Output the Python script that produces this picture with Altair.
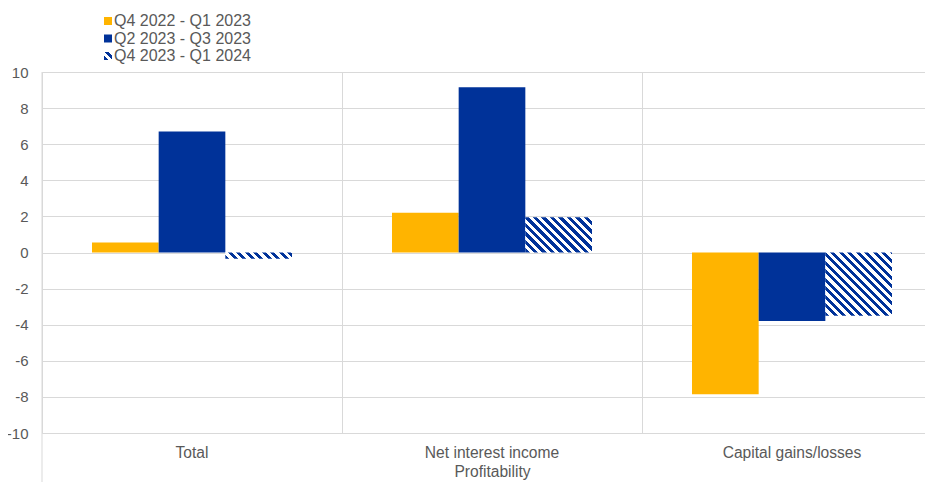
import json
import math
import altair as alt
import pandas as pd

# ---- data ----
categories = ["Total", "Net interest income", "Capital gains/losses"]
series = ["Q4 2022 - Q1 2023", "Q2 2023 - Q3 2023", "Q4 2023 - Q1 2024"]
q4_2022_q1_2023 = [0.55, 2.2, -7.85]
q2_2023_q3_2023 = [6.7, 9.15, -3.8]
q4_2023_q1_2024 = [-0.35, 1.95, -3.5]
y_ticks = [-10, -8, -6, -4, -2, 0, 2, 4, 6, 8, 10]
x_title = "Profitability"

# ---- style ----
ORANGE = "#FFB400"
BLUE = "#003299"
WHITE = "#FFFFFF"
GRID = "#D9D9D9"
TEXT = "#595959"
FONT = "Liberation Sans"
PLOT_W = 883
PLOT_H = 361
X_RANGE = 900
Y_MIN, Y_MAX = -10, 10
PAD_OUTER = 0.75
PERIOD = 8.5

band = X_RANGE / len(categories)
bar_w = band / (len(series) + 2 * PAD_OUTER)
px_per_unit = PLOT_H / (Y_MAX - Y_MIN)


def hatch(w, h):
    """Diagonal stripe fill ("\\") at 45 degrees for a box of w x h pixels."""
    total = w + h
    n = int(math.ceil(total / PERIOD))
    stops = []
    for k in range(n):
        a = min(k * PERIOD / total, 1)
        m = min((k + 0.5) * PERIOD / total, 1)
        b = min((k + 1) * PERIOD / total, 1)
        stops += [
            {"offset": round(a, 5), "color": BLUE},
            {"offset": round(m, 5), "color": BLUE},
            {"offset": round(m, 5), "color": WHITE},
            {"offset": round(b, 5), "color": WHITE},
        ]
    d = w * w + h * h
    return {
        "gradient": "linear",
        "x1": 0,
        "y1": 1,
        "x2": round(w * total / d, 5),
        "y2": round(1 - h * total / d, 5),
        "stops": stops,
    }


rows = []
for s, vals in zip(series, [q4_2022_q1_2023, q2_2023_q3_2023, q4_2023_q1_2024]):
    for c, v in zip(categories, vals):
        g = hatch(bar_w, abs(v) * px_per_unit) if s == series[2] else None
        rows.append({"category": c, "series": s, "value": v, "g": g})
df = pd.DataFrame(rows)

legend_hatch = alt.ExprRef(json.dumps(hatch(8, 8)))

x_enc = alt.X(
    "category:N",
    sort=categories,
    scale=alt.Scale(domain=categories, range=[0, X_RANGE], paddingInner=0, paddingOuter=0),
    axis=alt.Axis(
        title=x_title,
        labelAngle=0,
        ticks=False,
        tickSize=0,
        domain=False,
        grid=True,
        bandPosition=0,
        gridColor=GRID,
        gridWidth=1,
        labelPadding=12,
        titlePadding=4,
        labelFont=FONT,
        labelFontSize=15.6,
        labelColor=TEXT,
        titleFont=FONT,
        titleFontSize=15.6,
        titleFontWeight="normal",
        titleColor=TEXT,
    ),
)
xoff_enc = alt.XOffset(
    "series:N",
    sort=series,
    scale=alt.Scale(domain=series, paddingInner=0, paddingOuter=PAD_OUTER),
)
y_enc = alt.Y(
    "value:Q",
    scale=alt.Scale(domain=[Y_MIN, Y_MAX], nice=False, zero=False),
    axis=alt.Axis(
        title=None,
        values=y_ticks,
        labelExpr="datum.value + ''",
        ticks=False,
        tickSize=0,
        domain=False,
        grid=True,
        gridColor=GRID,
        gridWidth=1,
        labelPadding=14,
        labelFont=FONT,
        labelFontSize=15,
        labelColor=TEXT,
    ),
)

solid = (
    alt.Chart(df)
    .transform_filter(alt.datum.series != series[2])
    .mark_bar()
    .encode(
        x=x_enc,
        xOffset=xoff_enc,
        y=y_enc,
        color=alt.Color(
            "series:N",
            sort=series,
            scale=alt.Scale(domain=series, range=[ORANGE, BLUE, legend_hatch]),
            legend=alt.Legend(
                title=None,
                orient="none",
                legendX=58,
                legendY=-59,
                symbolType="square",
                symbolSize=64,
                symbolStrokeWidth=0,
                labelFont=FONT,
                labelFontSize=16,
                labelColor=TEXT,
                labelOffset=alt.ExprRef("-2"),
                rowPadding=1.5,
                padding=0,
            ),
        ),
    )
)

hatched = (
    alt.Chart(df)
    .transform_filter(alt.datum.series == series[2])
    .mark_bar()
    .encode(
        x=x_enc,
        xOffset=xoff_enc,
        y=y_enc,
        fill=alt.Fill("g:N", scale=None, legend=None),
    )
)

left_line = (
    alt.Chart(pd.DataFrame({"a": [0]}))
    .mark_rule(color=GRID, strokeWidth=1)
    .encode(x=alt.value(0), y=alt.value(0), y2=alt.value(PLOT_H + 80))
)

chart = (
    alt.layer(solid, hatched, left_line)
    .properties(
        width=PLOT_W,
        height=PLOT_H,
        autosize=alt.AutoSizeParams(type="none"),
        padding={"left": 34, "top": 64, "right": 0, "bottom": 49},
    )
    .configure_view(stroke=None)
    .configure(background="white")
)

chart.save("out.html", embed_options={"renderer": "svg", "actions": False})
